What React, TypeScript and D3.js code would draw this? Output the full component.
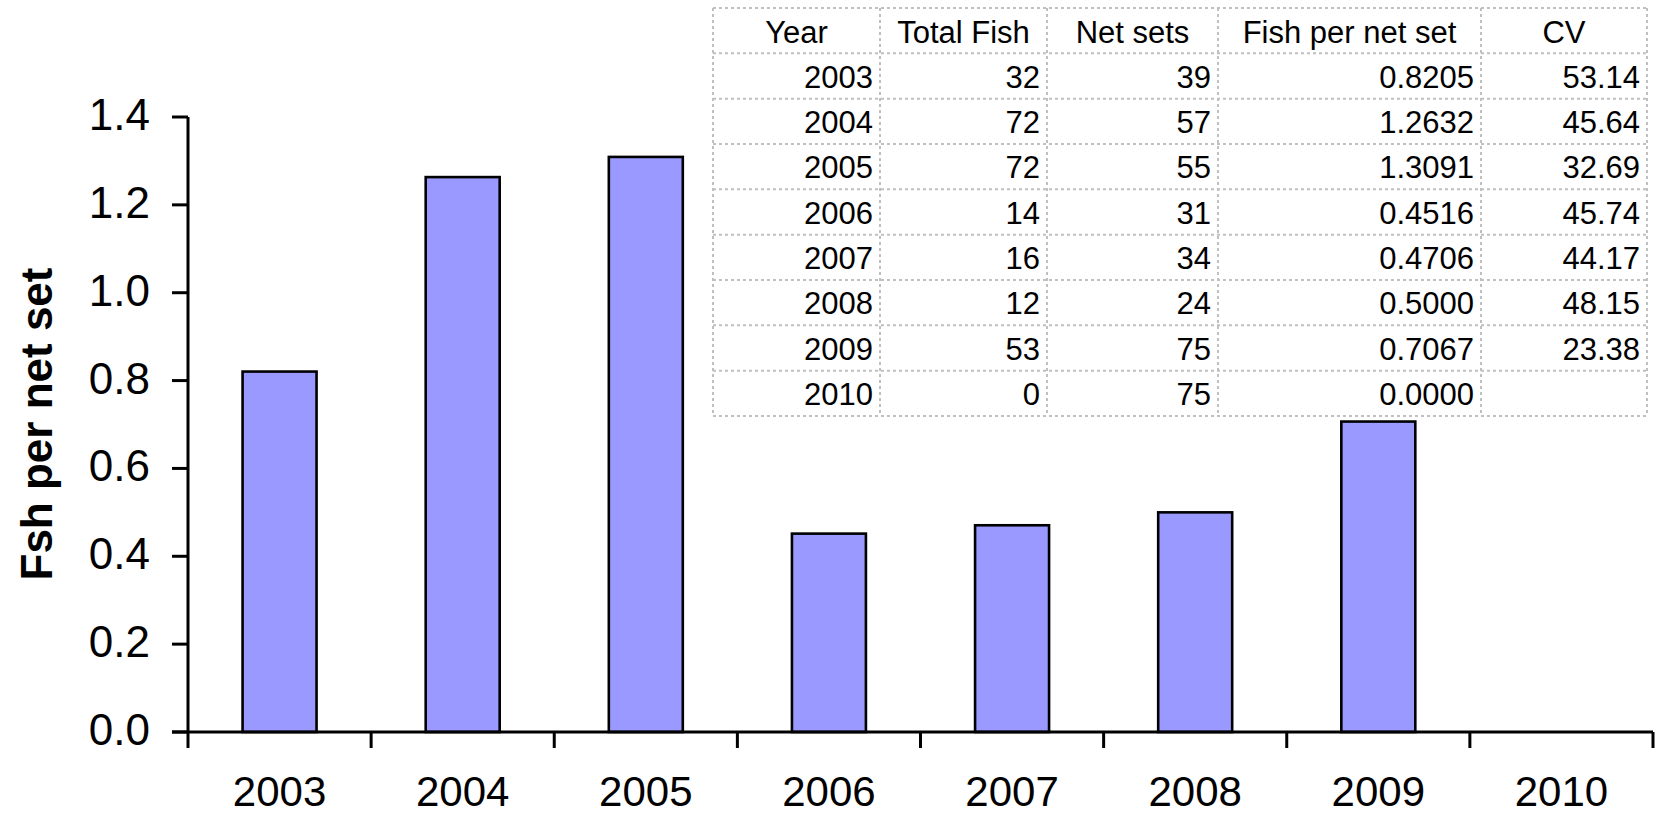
import React from "react";
import * as d3 from "d3";

const years = ["2003", "2004", "2005", "2006", "2007", "2008", "2009", "2010"];
const totalFish = [32, 72, 72, 14, 16, 12, 53, 0];
const netSets = [39, 57, 55, 31, 34, 24, 75, 75];
const fishPerNetSet = [0.8205, 1.2632, 1.3091, 0.4516, 0.4706, 0.5, 0.7067, 0.0];
const cv: (number | null)[] = [53.14, 45.64, 32.69, 45.74, 44.17, 48.15, 23.38, null];
const yTicks = [0, 0.2, 0.4, 0.6, 0.8, 1.0, 1.2, 1.4];
const tableHeaders = ["Year", "Total Fish", "Net sets", "Fish per net set", "CV"];

const W = 1663;
const H = 816;
const FONT = "'Liberation Sans', Arial, sans-serif";

export default function App() {
  const left = 188;
  const right = 1653;
  const top = 117;
  const bottom = 732;
  const tickLen = 16;

  const x = d3.scaleBand<string>().domain(years).range([left, right]).padding(0);
  const y = d3.scaleLinear().domain([0, 1.4]).range([bottom, top]);
  const barW = x.bandwidth() * 0.404;
  const fmt = d3.format(".1f");

  // table layout
  const colEdges = [713, 880, 1047, 1218, 1481, 1647];
  const tTop = 8;
  const tBottom = 416;
  const rowH = (tBottom - tTop) / (years.length + 1);
  const rows = years.map((yr, i) => [
    yr,
    String(totalFish[i]),
    String(netSets[i]),
    fishPerNetSet[i].toFixed(4),
    cv[i] == null ? "" : (cv[i] as number).toFixed(2),
  ]);

  return (
    <svg
      width={W}
      height={H}
      style={{ position: "absolute", left: 0, top: 0, background: "#fff" }}
      fontFamily={FONT}
    >
      <rect x={0} y={0} width={W} height={H} fill="#fff" />

      {/* bars */}
      {fishPerNetSet.map((v, i) =>
        v > 0 ? (
          <rect
            key={years[i]}
            x={(x(years[i]) as number) + x.bandwidth() / 2 - barW / 2}
            y={y(v)}
            width={barW}
            height={y(0) - y(v)}
            fill="#9999ff"
            stroke="#000"
            strokeWidth={2.6}
          />
        ) : null
      )}

      {/* y axis */}
      <line x1={left} x2={left} y1={top} y2={bottom + tickLen} stroke="#000" strokeWidth={3} />
      {yTicks.map((t) => (
        <g key={t}>
          <line x1={left - tickLen} x2={left} y1={y(t)} y2={y(t)} stroke="#000" strokeWidth={3} />
          <text x={150} y={y(t) + 13} textAnchor="end" fontSize={44} fill="#000">
            {fmt(t)}
          </text>
        </g>
      ))}

      {/* x axis */}
      <line x1={left - tickLen} x2={right} y1={bottom} y2={bottom} stroke="#000" strokeWidth={3} />
      {years.map((yr) => (
        <g key={yr}>
          <line
            x1={(x(yr) as number) + x.bandwidth()}
            x2={(x(yr) as number) + x.bandwidth()}
            y1={bottom}
            y2={bottom + tickLen}
            stroke="#000"
            strokeWidth={3}
          />
          <text
            x={(x(yr) as number) + x.bandwidth() / 2}
            y={806}
            textAnchor="middle"
            fontSize={42}
            fill="#000"
          >
            {yr}
          </text>
        </g>
      ))}

      {/* y axis title */}
      <text
        transform="translate(52,424) rotate(-90)"
        textAnchor="middle"
        fontSize={44}
        fontWeight="bold"
        fill="#000"
      >
        Fsh per net set
      </text>

      {/* data table */}
      <rect x={colEdges[0]} y={tTop} width={colEdges[5] - colEdges[0]} height={tBottom - tTop} fill="#fff" />
      {d3.range(years.length + 2).map((r) => (
        <line
          key={"h" + r}
          x1={colEdges[0]}
          x2={colEdges[5]}
          y1={tTop + r * rowH}
          y2={tTop + r * rowH}
          stroke="#c0c0c0"
          strokeWidth={2}
          strokeDasharray="3,3"
        />
      ))}
      {colEdges.map((cx, c) => (
        <line
          key={"v" + c}
          x1={cx}
          x2={cx}
          y1={tTop}
          y2={tBottom}
          stroke="#c0c0c0"
          strokeWidth={2}
          strokeDasharray="3,3"
        />
      ))}
      {tableHeaders.map((h, c) => (
        <text
          key={h}
          x={(colEdges[c] + colEdges[c + 1]) / 2}
          y={tTop + rowH - 10}
          textAnchor="middle"
          fontSize={31}
          fill="#000"
        >
          {h}
        </text>
      ))}
      {rows.map((row, r) =>
        row.map((cell, c) => (
          <text
            key={r + "-" + c}
            x={colEdges[c + 1] - 7}
            y={tTop + (r + 2) * rowH - 11}
            textAnchor="end"
            fontSize={31}
            fill="#000"
          >
            {cell}
          </text>
        ))
      )}
    </svg>
  );
}
